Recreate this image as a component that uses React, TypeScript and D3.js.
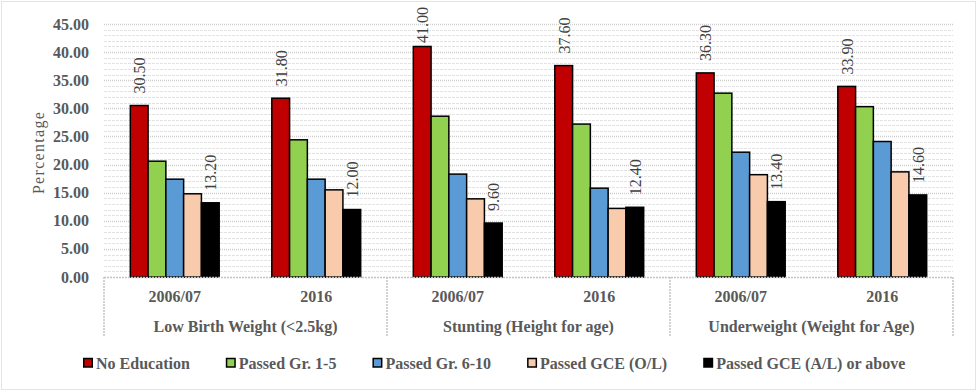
import * as d3 from "d3";
import { useRef, useEffect } from "react";

// data
const indicators = ["Low Birth Weight (<2.5kg)", "Stunting (Height for age)", "Underweight (Weight for Age)"];
const years = ["2006/07", "2016"];
const seriesNames = ["No Education", "Passed Gr. 1-5", "Passed Gr. 6-10", "Passed GCE (O/L)", "Passed GCE (A/L) or above"];
const seriesColors = ["#C00000", "#92D050", "#5B9BD5", "#F8CBAD", "#000000"];
const labelledSeries = [0, 4]; // only first and last series show labels

// values per indicator/year, in series order
const noEducation = [30.5, 31.8, 41.0, 37.6, 36.3, 33.9];
const passedGr1to5 = [20.6, 24.4, 28.6, 27.2, 32.7, 30.3];
const passedGr6to10 = [17.4, 17.4, 18.3, 15.8, 22.2, 24.1];
const passedOL = [14.8, 15.5, 13.9, 12.2, 18.2, 18.7];
const passedAL = [13.2, 12.0, 9.6, 12.4, 13.4, 14.6];
const yTicks = [0, 5, 10, 15, 20, 25, 30, 35, 40, 45];

const W = 977;
const H = 391;

const App = () => {
    const chartRef = useRef(null);

    useEffect(() => {
        const svg = d3.select(chartRef.current);
        svg.selectAll("*").remove();

        const margin = { top: 24, bottom: 114, left: 104, right: 24 };
        const x0 = margin.left;
        const x1 = W - margin.right;
        const y0 = H - margin.bottom;
        const textGrey = "#595959";

        const values = [noEducation, passedGr1to5, passedGr6to10, passedOL, passedAL];
        const cats = indicators.flatMap((ind, i) => years.map(y => `${i}|${y}`));

        const scaleY = d3.scaleLinear().domain([0, 45]).range([y0, margin.top]);
        const scaleX = d3.scaleBand().domain(cats).range([x0, x1]).padding(0);
        const scaleGroup = d3.scaleBand().domain(indicators).range([x0, x1]).padding(0);
        const scaleInner = d3.scaleBand()
            .domain(seriesNames)
            .range([0, scaleX.bandwidth()])
            .paddingInner(0)
            .paddingOuter(1.48);

        // outer frame
        svg.append("rect")
            .attr("x", 1.5).attr("y", 1.5)
            .attr("width", W - 3).attr("height", H - 3)
            .style("fill", "white")
            .style("stroke", "#c8c8c8")
            .style("stroke-dasharray", "1,1");

        // minor gridlines
        const minor = d3.range(1, 45).filter(v => v % 5 !== 0);
        svg.append("g").selectAll("line")
            .data(minor)
            .enter()
            .append("line")
            .attr("x1", x0).attr("x2", x1)
            .attr("y1", d => Math.round(scaleY(d)) + 0.5)
            .attr("y2", d => Math.round(scaleY(d)) + 0.5)
            .style("stroke", "#e3e3e3")
            .style("stroke-dasharray", "3,1");

        // major gridlines
        svg.append("g").selectAll("line")
            .data(yTicks.slice(1))
            .enter()
            .append("line")
            .attr("x1", x0).attr("x2", x1)
            .attr("y1", d => Math.round(scaleY(d)) + 0.5)
            .attr("y2", d => Math.round(scaleY(d)) + 0.5)
            .style("stroke", "#cfcfcf")
            .style("stroke-width", 1.5)
            .style("stroke-dasharray", "1,1");

        // y tick labels
        svg.append("g").selectAll("text")
            .data(yTicks)
            .enter()
            .append("text")
            .attr("x", 89)
            .attr("y", d => scaleY(d))
            .attr("dy", "0.35em")
            .attr("text-anchor", "end")
            .attr("font-weight", "bold")
            .attr("font-size", 16)
            .attr("fill", textGrey)
            .text(d => d.toFixed(2));

        // y title
        svg.append("text")
            .attr("transform", `translate(38, ${(margin.top + y0) / 2 + 2}) rotate(-90)`)
            .attr("text-anchor", "middle")
            .attr("dy", "0.35em")
            .attr("font-size", 16)
            .attr("letter-spacing", 1.3)
            .attr("fill", textGrey)
            .text("Percentage");

        // bars
        values.forEach((vals, s) => {
            svg.append("g").selectAll("rect")
                .data(vals)
                .enter()
                .append("rect")
                .attr("x", (d, i) => scaleX(cats[i]) + scaleInner(seriesNames[s]))
                .attr("y", d => scaleY(d))
                .attr("width", scaleInner.bandwidth())
                .attr("height", d => y0 - scaleY(d))
                .style("fill", seriesColors[s])
                .style("stroke", "#000")
                .style("stroke-width", 1.5);
        });

        // data labels (rotated)
        labelledSeries.forEach(s => {
            const g = svg.append("g");
            values[s].forEach((v, i) => {
                const cx = scaleX(cats[i]) + scaleInner(seriesNames[s]) + scaleInner.bandwidth() / 2;
                const t = g.append("text")
                    .attr("text-anchor", "start")
                    .attr("dy", "0.38em")
                    .attr("font-size", 16)
                    .attr("fill", "#404040")
                    .text(v.toFixed(2));
                const len = t.node().getComputedTextLength();
                const ay = Math.max(scaleY(v) - 12, 7 + len);
                t.attr("transform", `translate(${cx}, ${ay}) rotate(-90)`);
            });
        });

        // category axis box
        const axisG = svg.append("g").style("stroke", "#c4c4c4").style("stroke-width", 1.5);
        axisG.append("line")
            .attr("x1", x0).attr("x2", x1)
            .attr("y1", y0 + 0.5).attr("y2", y0 + 0.5)
            .style("stroke-dasharray", "2,1");
        const seps = indicators.map(d => scaleGroup(d)).concat([x1]);
        axisG.selectAll(".sep")
            .data(seps)
            .enter()
            .append("line")
            .attr("x1", d => d).attr("x2", d => d)
            .attr("y1", y0).attr("y2", y0 + 60)
            .style("stroke-dasharray", "2,1");

        svg.append("g").selectAll("text")
            .data(cats)
            .enter()
            .append("text")
            .attr("x", d => scaleX(d) + scaleX.bandwidth() / 2)
            .attr("y", y0 + 25)
            .attr("text-anchor", "middle")
            .attr("font-weight", "bold")
            .attr("font-size", 16)
            .attr("fill", textGrey)
            .text(d => d.split("|")[1]);

        svg.append("g").selectAll("text")
            .data(indicators)
            .enter()
            .append("text")
            .attr("x", d => scaleGroup(d) + scaleGroup.bandwidth() / 2)
            .attr("y", y0 + 55)
            .attr("text-anchor", "middle")
            .attr("font-weight", "bold")
            .attr("font-size", 16)
            .attr("fill", textGrey)
            .text(d => d);

        // legend
        const legend = svg.append("g");
        const ly = 363;
        const gap = 36;
        let lx = 0;
        seriesNames.forEach((name, s) => {
            const it = legend.append("g").attr("transform", `translate(${lx}, 0)`);
            it.append("rect")
                .attr("x", 0.75).attr("y", ly - 4.5)
                .attr("width", 8.5).attr("height", 8.5)
                .style("fill", seriesColors[s])
                .style("stroke", "#000")
                .style("stroke-width", 1.5);
            const t = it.append("text")
                .attr("x", 13)
                .attr("y", ly)
                .attr("dy", "0.35em")
                .attr("font-weight", "bold")
                .attr("font-size", 16)
                .attr("fill", textGrey)
                .text(name);
            lx += 13 + t.node().getComputedTextLength() + gap;
        });
        const total = lx - gap;
        legend.attr("transform", `translate(${Math.round(494 - total / 2)}, 0)`);
    }, []);

    return (
        <svg ref={chartRef} width={W} height={H}
             fontFamily='"Liberation Serif", "Times New Roman", Times, serif'
             style={{ position: "absolute", left: 0, top: 0, background: "white" }}></svg>
    );
};

export default App;
